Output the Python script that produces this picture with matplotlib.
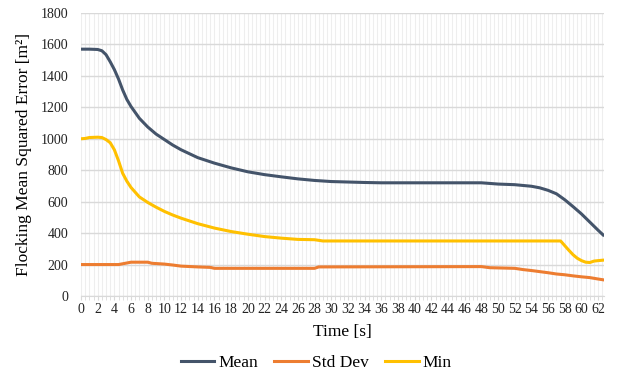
import numpy as np
import matplotlib
matplotlib.use("Agg")
import matplotlib.pyplot as plt
from matplotlib.ticker import MultipleLocator

plt.rcParams['font.family'] = ['Liberation Serif', 'DejaVu Serif']

# Datos (tiempo en s, error en m^2)
t_mean = [0, 1, 2, 2.5, 3, 3.5, 4, 4.5, 5, 5.5, 6, 7, 8, 9, 10, 11, 12, 14, 16, 18,
          20, 22, 24, 26, 28, 30, 32, 34, 36, 40, 44, 48, 50, 52, 53, 54, 55, 56, 57,
          58, 59, 60, 61, 62, 62.6]
mean = [1570, 1570, 1568, 1560, 1535, 1490, 1440, 1380, 1310, 1250, 1205, 1130, 1075,
        1030, 995, 960, 930, 880, 845, 815, 790, 772, 758, 745, 735, 728, 725, 722,
        720, 720, 720, 720, 712, 708, 703, 698, 688, 672, 650, 612, 568, 522, 470,
        418, 388]

t_std = [0, 4.5, 5, 5.5, 6, 8, 8.5, 10, 11, 12, 14, 15.5, 16, 28, 28.5, 48, 49, 52,
         53, 54, 55, 56, 57, 58, 59, 60, 61, 62, 62.6]
std = [200, 200, 205, 210, 215, 215, 208, 203, 197, 190, 185, 182, 176, 176, 185, 187,
       180, 176, 168, 162, 155, 148, 140, 135, 128, 122, 117, 108, 103]

t_min = [0, 0.5, 1, 2, 2.5, 3, 3.5, 4, 4.5, 5, 5.5, 6, 7, 8, 9, 10, 11, 12, 14, 16,
         18, 20, 22, 24, 26, 28, 29, 57.5, 58, 58.5, 59, 59.5, 60, 60.5, 61, 61.5, 62,
         62.6]
mins = [1000, 1002, 1008, 1010, 1008, 995, 975, 930, 860, 780, 730, 690, 630, 595, 565,
        538, 515, 495, 460, 432, 410, 393, 378, 368, 360, 358, 350, 350, 320, 290, 262,
        240, 225, 215, 213, 222, 225, 228]

fig = plt.figure(figsize=(6.2, 3.76), dpi=100)
ax = fig.add_axes([81/620, 80/376, 523/620, 283/376])

ax.plot(t_mean, mean, color='#44546A', lw=2.2, label='Mean')
ax.plot(t_std, std, color='#ED7D31', lw=2.2, label='Std Dev')
ax.plot(t_min, mins, color='#FFC000', lw=2.2, label='Min')

ax.set_xlim(0, 62.7)
ax.set_ylim(0, 1800)
ax.xaxis.set_major_locator(MultipleLocator(2))
ax.xaxis.set_minor_locator(MultipleLocator(0.5))
ax.yaxis.set_major_locator(MultipleLocator(200))
ax.grid(which='minor', axis='x', color='#EEEEEE', lw=0.8)
ax.grid(which='major', axis='x', color='#EEEEEE', lw=0.8)
ax.grid(which='major', axis='y', color='#D9D9D9', lw=1.0)
ax.set_axisbelow(True)
for s in ['top', 'right', 'left']:
    ax.spines[s].set_visible(False)
ax.spines['bottom'].set_color('#D9D9D9')
ax.tick_params(which='both', labelsize=10, colors='#222222')
ax.tick_params(axis='x', which='both', length=3, color='#D9D9D9', pad=2)
ax.tick_params(axis='y', length=0, pad=9)

ax.set_xlabel('Time [s]', fontsize=12.5, labelpad=6)
ax.set_ylabel('Flocking Mean Squared Error [m²]', fontsize=12.5, labelpad=6)

fig.legend(loc='center', bbox_to_anchor=(316/620, 1 - 363/376), ncol=3, frameon=False,
           fontsize=12.5, handlelength=1.95, columnspacing=0.95, handletextpad=0.2)

fig.savefig('out.png', dpi=100)
